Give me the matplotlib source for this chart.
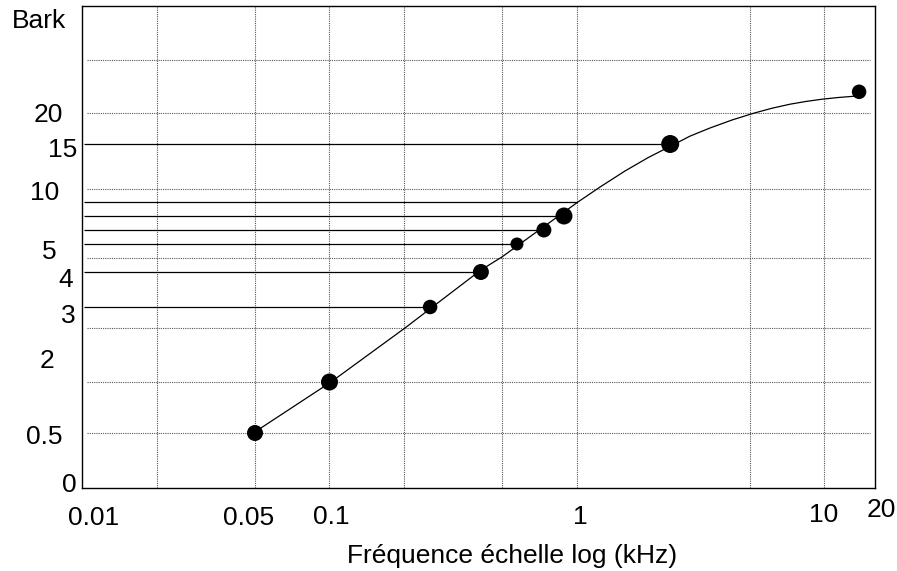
import numpy as np
import matplotlib
matplotlib.use("Agg")
import matplotlib.pyplot as plt

# ---------------- data ----------------
freq_points = [0.05, 0.1, 0.255, 0.409, 0.572, 0.735, 0.886, 2.38, 13.8]   # kHz
bark_points = [0.5, 1, 3, 4, 5, 6, 7, 15, 22]

hline_levels = [3, 4, 5, 6, 7, 8, 15]
hline_ends = [0.255, 0.409, 0.572, 0.735, 0.886, 1.0, 2.38]

curve_freqs = [0.0514, 0.1014, 0.2018, 0.409, 0.498, 1.009, 1.239, 1.563,
               1.936, 2.38, 2.862, 3.446, 4.229, 5.19, 6.136, 7.254, 8.42,
               9.77, 11.34, 13.16]
curve_bark = [0.53, 1.0, 2.5, 4.07, 4.54, 8.0, 10.22, 12.0,
              13.48, 14.74, 16.27, 17.58, 18.87, 19.98, 20.45, 20.83, 21.09,
              21.30, 21.46, 21.58]

x_tick_values = [0.01, 0.05, 0.1, 1, 10, 20]
x_tick_labels = ["0.01", "0.05", "0.1", "1", "10", "20"]
y_tick_values = [0, 0.5, 2, 3, 4, 5, 10, 15, 20]
y_tick_labels = ["0", "0.5", "2", "3", "4", "5", "10", "15", "20"]

x_grid = [0.02, 0.05, 0.1, 0.2, 0.5, 1, 5, 10]
y_grid = [0.5, 1, 2.5, 4.5, 10, 20, 25]

# ---------------- style / layout ----------------
marker_px = [16, 17, 14.5, 16, 13, 15, 17, 18, 14.5]
# schematic (non-linear) vertical scale: value -> height
scale_vals = [0, 0.5, 1, 2, 3, 4, 5, 6, 7, 8, 10, 15, 20, 25, 30]
scale_pos = [0, 55, 106, 139, 181, 216, 244, 258, 272, 286, 299, 344, 375, 428, 482]

# pixel offsets of tick labels (dx, baseline below)
y_lab_off = [(-5, 4), (-20, 11), (-28, 19), (-6, 16), (-9, 15),
             (-25, 15), (-23, 11), (-5, 13), (-19, 9)]
x_lab_off = [(12, 37), (-6, 37), (2, 36), (3.5, 36), (-1, 34), (-18, 29)]

FONT = "Liberation Sans"
FS = 19
PT = 0.72  # px -> pt at dpi 100

plt.rcParams["font.family"] = [FONT, "DejaVu Sans"]

fig = plt.figure(figsize=(8.97, 5.71), dpi=100)
ax = fig.add_axes([82 / 897, 83 / 571, 793 / 897, 482 / 571])

ax.set_xscale("log")
ax.set_yscale("function",
              functions=(lambda v: np.interp(v, scale_vals, scale_pos),
                         lambda h: np.interp(h, scale_pos, scale_vals)))
ax.set_xlim(0.01, 16.0)
ax.set_ylim(0, 30)

ax.set_xticks([])
ax.set_yticks([])
ax.minorticks_off()
ax.tick_params(which="both", length=0, labelbottom=False, labelleft=False)

for s in ax.spines.values():
    s.set_linewidth(1.0)
    s.set_color("black")

grid_kw = dict(color="#555555", linewidth=0.8, linestyle=(0, (1, 1)), zorder=1)
for gx in x_grid:
    ax.axvline(gx, **grid_kw)
for gy in y_grid:
    ax.axhline(gy, xmin=0.006, xmax=0.994, **grid_kw)

ax.hlines(hline_levels, 0.0102, hline_ends, color="black", linewidth=0.9, zorder=2)

ax.plot(curve_freqs, curve_bark, color="black", linewidth=0.9, zorder=3)
ax.scatter(freq_points, bark_points, s=[(m * PT) ** 2 for m in marker_px],
           color="black", zorder=4, linewidths=0)

for v, lab, (dx, dy) in zip(y_tick_values, y_tick_labels, y_lab_off):
    ax.annotate(lab, xy=(0, v), xycoords=("axes fraction", "data"),
                xytext=(dx * PT, -dy * PT), textcoords="offset points",
                ha="right", va="baseline", fontsize=FS, annotation_clip=False)

for v, lab, (dx, dy) in zip(x_tick_values, x_tick_labels, x_lab_off):
    ax.annotate(lab, xy=(v, 0), xycoords=("data", "axes fraction"),
                xytext=(dx * PT, -dy * PT), textcoords="offset points",
                ha="center", va="baseline", fontsize=FS, annotation_clip=False)

fig.text(512 / 897, 1 - 563 / 571, "Fréquence échelle log (kHz)",
         ha="center", va="baseline", fontsize=FS)
fig.text(12 / 897, 1 - 28 / 571, "Bark", ha="left", va="baseline", fontsize=FS)

fig.savefig("out.png", dpi=100)
